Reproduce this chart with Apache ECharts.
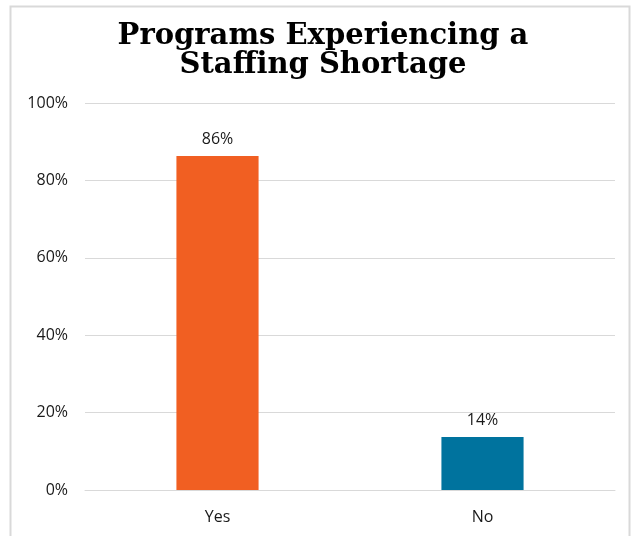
<!DOCTYPE html>
<html><head><meta charset="utf-8">
<script src="https://cdn.jsdelivr.net/npm/echarts@6/dist/echarts.min.js"></script>
<style>html,body{margin:0;padding:0;background:#fff;}#c{width:634px;height:536px;}</style>
</head><body><div id="c"></div>
<script>
var categories = ['Yes', 'No'];
var values = [86.3, 13.7];
var barColors = ['#F15F22', '#00739E'];
var yTicks = [0, 20, 40, 60, 80, 100];

var chart = echarts.init(document.getElementById('c'));
chart.setOption({
  animation: false,
  backgroundColor: '#fff',
  graphic: [{
    type: 'rect', shape: { x: 10.5, y: 6.5, width: 619, height: 540 },
    style: { fill: 'none', stroke: '#d9d9d9', lineWidth: 2 }, silent: true
  }],
  title: {
    text: 'Programs Experiencing a\nStaffing Shortage',
    left: 318, textAlign: 'center', top: 17,
    textStyle: { fontFamily: 'DejaVu Serif', fontWeight: 'bold', fontSize: 29, lineHeight: 29, color: '#000' }
  },
  grid: { left: 85, right: 19, top: 103, bottom: 46 },
  xAxis: {
    type: 'category', data: categories,
    axisLine: { show: true, lineStyle: { color: '#d9d9d9', width: 1 } },
    axisTick: { show: false },
    axisLabel: { fontFamily: 'Open Sans', fontSize: 16, color: '#1a1a1a', margin: 19 }
  },
  yAxis: {
    type: 'value', min: yTicks[0], max: yTicks[yTicks.length - 1], interval: 20,
    axisLine: { show: false }, axisTick: { show: false },
    splitLine: { lineStyle: { color: '#d9d9d9', width: 1 } },
    axisLabel: { fontFamily: 'Open Sans', fontSize: 16, color: '#1a1a1a', margin: 17, formatter: function (v) { return v + '%'; } }
  },
  series: [{
    type: 'bar', barWidth: '31%',
    data: values.map(function (v, i) { return { value: v, itemStyle: { color: barColors[i] } }; }),
    label: { show: true, position: 'top', distance: 9, fontFamily: 'Open Sans', fontSize: 16, color: '#1a1a1a',
      formatter: function (p) { return Math.round(p.value) + '%'; } }
  }]
});
</script></body></html>
